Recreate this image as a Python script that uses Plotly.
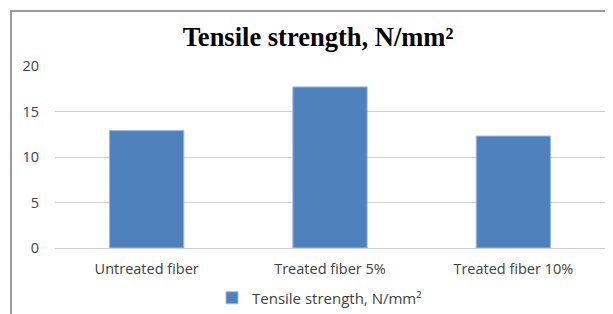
import plotly.graph_objects as go

categories = ["Untreated fiber", "Treated fiber 5%", "Treated fiber 10%"]
tensile_strength = [12.9, 17.7, 12.3]
y_ticks = [0, 5, 10, 15, 20]
series_name = "Tensile strength, N/mm²"
title_text = "Tensile strength, N/mm²"

# page body has an 8px default margin; work in screen pixels and shift
OFF = 8
W, H = 613, 314
plot_left, plot_right, plot_top, plot_bottom = 55, 605, 66, 248
ml = plot_left - OFF
mr = W - (plot_right - OFF)
mt = plot_top - OFF
mb = H - (plot_bottom - OFF)
pw, ph = W - ml - mr, H - mt - mb

def px_to_paper_x(px):
    return (px - plot_left) / pw

def px_to_paper_y(py):
    return (plot_bottom - py) / ph

fig = go.Figure()
fig.add_trace(go.Bar(
    x=categories, y=tensile_strength, name=series_name,
    marker=dict(color="#4F81BD", line=dict(color="#9DB9DE", width=1)),
    showlegend=True,
))

x0, y0 = px_to_paper_x(11), px_to_paper_y(11)
xb, yb = px_to_paper_x(W + 20), px_to_paper_y(H + 20)
fig.add_shape(type="path", xref="paper", yref="paper",
              path=f"M {x0} {yb} L {x0} {y0} L {xb} {y0}",
              line=dict(color="#9A9A9A", width=2))

tick_font = dict(family="Open Sans", size=14.5, color="#404040")
legend_font = dict(family="Open Sans", size=15, color="#404040")

fig.update_layout(
    width=W, height=H,
    margin=dict(l=ml, r=mr, t=mt, b=mb, autoexpand=False),
    paper_bgcolor="white", plot_bgcolor="white",
    title=dict(text=f"<b>{title_text}</b>", x=(318 - OFF) / W, xanchor="center",
               y=1 - (37 - OFF) / H, yanchor="middle",
               font=dict(family="Liberation Serif", size=26.5, color="#000000")),
    bargap=0.595,
    xaxis=dict(showgrid=False, showline=True, linecolor="#D0D0D0", linewidth=1,
               ticks="", tickfont=tick_font, ticklabelstandoff=8),
    yaxis=dict(range=[0, 20], tickvals=y_ticks, showgrid=True, gridcolor="#D0D0D0", gridwidth=1,
               zeroline=False, showline=False, ticks="", ticklabelstandoff=15,
               tickfont=tick_font),
    legend=dict(orientation="h", x=px_to_paper_x(212), xanchor="left",
                y=px_to_paper_y(298), yanchor="middle",
                font=legend_font, itemwidth=30),
)

fig.write_html("out.html")
